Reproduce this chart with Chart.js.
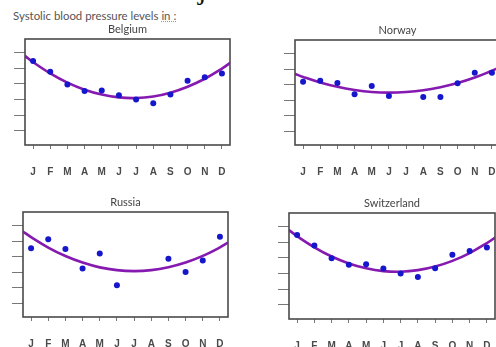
<!DOCTYPE html>
<html>
<head>
<meta charset="utf-8">
<script src="https://cdn.jsdelivr.net/npm/chart.js@4.4.1/dist/chart.umd.min.js"></script>
<style>
  html, body { margin: 0; padding: 0; background: #fff; width: 496px; height: 347px; overflow: hidden; position: relative; }
  canvas { position: absolute; }
  #heading { position: absolute; left: 13px; top: 9px; font: 11.4px Lato, sans-serif; color: #555; white-space: nowrap; }
  #heading u { text-decoration: underline dotted #999; }
  #scrap { position: absolute; left: 198px; top: -26px; font: 30px "Liberation Serif", serif; line-height: 30px; color: #111; }
</style>
</head>
<body>
<div id="scrap">j</div>
<div id="heading">Systolic blood pressure levels <u>in :</u></div>
<canvas id="belgium"></canvas>
<canvas id="norway"></canvas>
<canvas id="russia"></canvas>
<canvas id="switzerland"></canvas>
<script>
// months and unlabelled y ticks
const MONTHS = ['J', 'F', 'M', 'A', 'M', 'J', 'J', 'A', 'S', 'O', 'N', 'D'];
const Y_TICKS = [1, 2, 3, 4, 5, 6];
// x positions of the fitted curve points (edges + each month)
const TREND_X = [-0.5, 0, 1, 2, 3, 4, 5, 6, 7, 8, 9, 10, 11, 11.5];

// monthly readings (arbitrary units, no labels on the axis)
const BELGIUM = [5.46, 4.78, 3.96, 3.55, 3.58, 3.27, 3.0, 2.76, 3.32, 4.2, 4.43, 4.67];
const NORWAY = [4.18, 4.25, 4.1, 3.37, 3.91, 3.26, null, 3.2, 3.2, 4.08, 4.76, 4.76];
const RUSSIA = [4.53, 5.11, 4.49, 3.23, 4.19, 2.15, null, null, 3.85, 3.0, 3.74, 5.28];
const SWITZERLAND = [5.47, 4.79, 3.98, 3.57, 3.6, 3.32, 3.0, 2.79, 3.34, 4.21, 4.45, 4.66];

// fitted curve
const BELGIUM_FIT = [5.81, 5.39, 4.67, 4.08, 3.63, 3.32, 3.14, 3.1, 3.2, 3.44, 3.82, 4.33, 4.98, 5.36];
const NORWAY_FIT = [4.7, 4.49, 4.13, 3.85, 3.65, 3.52, 3.48, 3.52, 3.63, 3.83, 4.1, 4.45, 4.89, 5.13];
const RUSSIA_FIT = [5.63, 5.25, 4.58, 4.03, 3.61, 3.3, 3.12, 3.06, 3.12, 3.31, 3.61, 4.04, 4.59, 4.92];
const SWITZERLAND_FIT = [5.8, 5.39, 4.68, 4.09, 3.65, 3.34, 3.16, 3.12, 3.22, 3.45, 3.81, 4.31, 4.95, 5.31];

const DOT_COLOR = '#1616cc';
const LINE_COLOR = '#8519b0';

// plot frame on all four sides
const framePlugin = {
    id: 'frame',
    afterDraw(chart) {
        const {ctx, chartArea: a} = chart;
        ctx.save();
        ctx.strokeStyle = '#4a4a4a';
        ctx.lineWidth = 1.6;
        ctx.strokeRect(a.left, a.top, a.right - a.left, a.bottom - a.top);
        ctx.restore();
    },
};

const makePanel = (id, title, values, fit, box) => {
    const canvas = document.getElementById(id);
    const w = box.r - box.l + 32;
    const h = box.b - box.t + 22 + 34;
    canvas.width = w;
    canvas.height = h;
    canvas.style.left = (box.l - 16) + 'px';
    canvas.style.top = (box.t - 22) + 'px';

    new Chart(canvas.getContext('2d'), {
        type: 'line',
        data: {
            datasets: [
                {
                    data: values.map((v, i) => ({x: i, y: v})),
                    showLine: false,
                    pointRadius: 3,
                    pointBackgroundColor: DOT_COLOR,
                    pointBorderWidth: 0,
                },
                {
                    data: TREND_X.map((x, i) => ({x: x, y: fit[i]})),
                    borderColor: LINE_COLOR,
                    borderWidth: 2.6,
                    pointRadius: 0,
                    tension: 0.4,
                    fill: false,
                },
            ],
        },
        options: {
            responsive: false,
            animation: false,
            devicePixelRatio: 1,
            layout: {padding: {left: 0, right: 16, top: 0, bottom: 0}},
            plugins: {
                legend: {display: false},
                tooltip: {enabled: false},
                title: {
                    display: true,
                    fullSize: false,
                    text: title,
                    color: '#444',
                    font: {family: 'Lato', size: 11, weight: 'normal'},
                    padding: {top: 5.4, bottom: 3.4},
                },
            },
            scales: {
                x: {
                    type: 'linear',
                    min: -0.47,
                    max: 11.47,
                    afterBuildTicks: (axis) => { axis.ticks = MONTHS.map((m, i) => ({value: i})); },
                    afterFit: (s) => { s.height = 34; },
                    border: {display: false},
                    grid: {drawOnChartArea: false, tickLength: 4, color: '#777'},
                    ticks: {
                        autoSkip: false,
                        maxRotation: 0,
                        padding: 17,
                        color: '#4a4a4a',
                        font: {family: 'Liberation Sans', size: 10, weight: 'bold'},
                        callback: (v) => MONTHS[v],
                    },
                },
                y: {
                    min: 0.1,
                    max: 6.87,
                    afterBuildTicks: (axis) => { axis.ticks = Y_TICKS.map((v) => ({value: v})); },
                    afterFit: (s) => { s.width = 16; },
                    border: {display: false},
                    grid: {drawOnChartArea: false, tickLength: 11, color: '#777'},
                    ticks: {display: false},
                },
            },
        },
        plugins: [framePlugin],
    });
};

makePanel('belgium', 'Belgium', BELGIUM, BELGIUM_FIT, {l: 25, r: 230, t: 39, b: 145});
makePanel('norway', 'Norway', NORWAY, NORWAY_FIT, {l: 295, r: 500, t: 40, b: 145});
makePanel('russia', 'Russia', RUSSIA, RUSSIA_FIT, {l: 23, r: 228, t: 212, b: 317});
makePanel('switzerland', 'Switzerland', SWITZERLAND, SWITZERLAND_FIT, {l: 289, r: 495, t: 213, b: 319});
</script>
</body>
</html>
